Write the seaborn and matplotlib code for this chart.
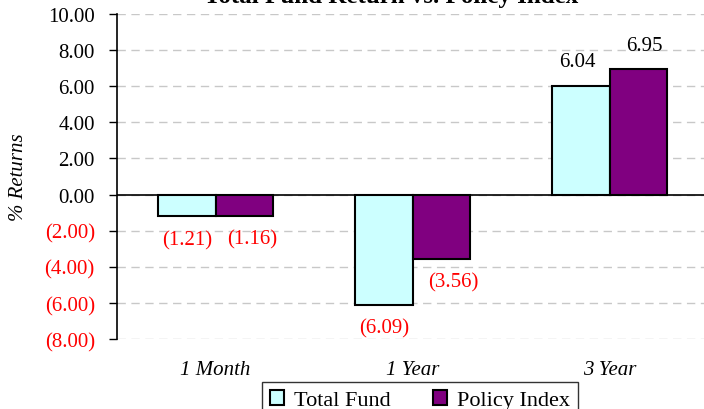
import pandas as pd
import numpy as np
import seaborn as sns
import matplotlib.pyplot as plt
from matplotlib.ticker import FuncFormatter

periods = ['1 Month', '1 Year', '3 Year']
total_fund = [-1.21, -6.09, 6.04]
policy_index = [-1.16, -3.56, 6.95]
series = ['Total Fund', 'Policy Index']
colors = ['#CCFFFF', '#800080']

df = pd.DataFrame({
    'Period': periods * 2,
    'Series': [series[0]] * 3 + [series[1]] * 3,
    'Return': total_fund + policy_index,
})

sns.set_style('white')
plt.rcParams['font.family'] = ['Liberation Serif', 'DejaVu Serif']
plt.rcParams['font.size'] = 15
plt.rcParams['text.color'] = 'black'
plt.rcParams['axes.labelcolor'] = 'black'
plt.rcParams['xtick.color'] = 'black'
plt.rcParams['ytick.color'] = 'black'

fig = plt.figure(figsize=(7.04, 4.10), dpi=100)
ax = fig.add_axes([117 / 704, 1 - 340 / 410, 591 / 704, 325 / 410])

sns.barplot(data=df, x='Period', y='Return', hue='Series', palette=colors,
            saturation=1, width=0.58, edgecolor='black', linewidth=1.5, ax=ax,
            legend=False, errorbar=None)

ax.set_ylim(-8, 10)
ax.set_xlim(-0.5, 2.5)
ax.set_yticks(np.arange(-8, 10.1, 2))
ax.yaxis.set_major_formatter(FuncFormatter(
    lambda v, p: f'({abs(v):.2f})' if v < 0 else f'{v:.2f}'))
for lbl, v in zip(ax.get_yticklabels(), np.arange(-8, 10.1, 2)):
    lbl.set_color('red' if v < 0 else 'black')
ax.yaxis.grid(True, linestyle=(0, (6, 4)), color='#c8c8c8', linewidth=1)
ax.set_axisbelow(True)
ax.axhline(0, color='black', linewidth=1.2)

for s in ['top', 'right', 'bottom']:
    ax.spines[s].set_visible(False)
ax.spines['left'].set_color('black')
ax.spines['left'].set_linewidth(1.2)
ax.tick_params(axis='y', which='both', left=True, length=6, width=1, color='black', pad=10)
ax.tick_params(axis='x', length=0, pad=15)
for lbl in ax.get_xticklabels():
    lbl.set_fontstyle('italic')
ax.set_xlabel('')
ax.set_ylabel('% Returns', fontstyle='italic', labelpad=12)

# data labels
offs = [-0.145, 0.145]
for j, vals in enumerate([total_fund, policy_index]):
    for i, v in enumerate(vals):
        x = i + offs[j]
        if v < 0:
            ax.text(x + (0.04 if (j == 1 and i == 0) else 0.0) + (0.06 if (j == 1 and i == 1) else 0.0),
                    v - 0.75, f'({abs(v):.2f})', color='red', ha='center', va='top')
        else:
            ax.text(x - 0.02 if j == 0 else x + 0.03, v + 0.8, f'{v:.2f}',
                    color='black', ha='center', va='bottom')

handles = [plt.Rectangle((0, 0), 1, 1, facecolor=c, edgecolor='black', linewidth=1.5)
           for c in colors]
leg = fig.legend(handles, series, loc='upper center', bbox_to_anchor=(420 / 704, 1 - 383 / 410),
                 borderaxespad=0, ncol=2, frameon=True, fancybox=False, edgecolor='black',
                 fontsize=16, handlelength=0.65, handleheight=0.65, handletextpad=0.45,
                 columnspacing=1.9, borderpad=0.35)
leg.get_frame().set_linewidth(1)

fig.text(391 / 704, 1 - 3 / 410, 'Total Fund Return vs. Policy Index',
         ha='center', va='baseline', fontsize=18, fontweight='bold')

fig.savefig('out.png', dpi=100)
